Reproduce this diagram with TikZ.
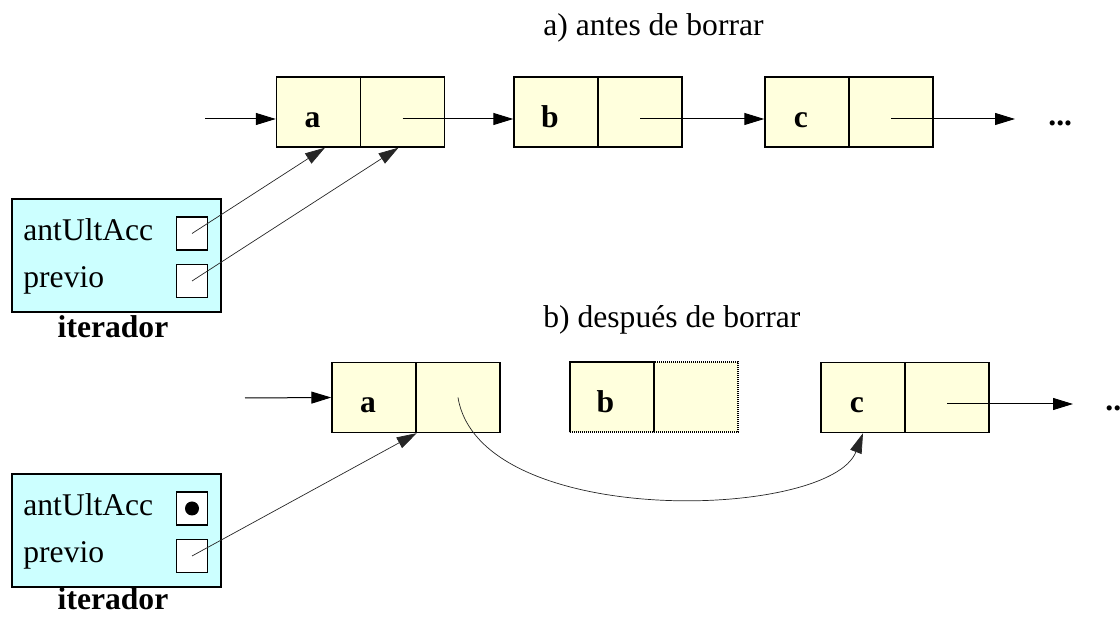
\documentclass[tikz,border=0pt]{standalone}
\usepackage{fontspec}
\setmainfont{Liberation Serif}
\usepackage{xcolor}
\usepackage{tikz}
\usetikzlibrary{arrows.meta}

\definecolor{amarillo}{HTML}{FFFFDD}
\definecolor{cian}{HTML}{CCFFFF}
\newcommand{\tamano}{\fontsize{15.8pt}{19pt}\selectfont}

\begin{document}
\begin{tikzpicture}[x=0.5pt, y=-0.5pt, font=\tamano,
    celda/.style={draw, fill=amarillo, line width=0.7pt, minimum width=42pt, minimum height=35pt,
                  inner sep=0pt, font=\tamano\bfseries, text height=15.5pt, text depth=0pt,
                  execute at begin node={\hspace*{-6pt}}},
    borrada/.style={dash pattern=on 0.6pt off 0.4pt, draw=black, line width=1pt},
    casilla/.style={draw, fill=white, line width=0.6pt, minimum width=15.5pt, minimum height=16.5pt, inner sep=0pt},
    ptr/.style={-{Triangle[length=10pt,width=6pt]}, line width=0.5pt},
    fino/.style={-{Triangle[length=10pt,width=6pt]}, line width=0.35pt, draw=black!85}]
                    \useasboundingbox (0,0) rectangle (1120,619);
                    % titulos
                    \node[anchor=base west, inner sep=0pt] (tituloA) at (543,36) {a) antes de borrar};
                    \node[anchor=base west, inner sep=0pt] (tituloD) at (543,328) {b) después de borrar};
                    % lista antes de borrar
                        \foreach \n/\x in {a/318.5, b/556, c/807} {
                            \node[celda] (\n1) at (\x,112) {\n};
                            \node[celda] (\n1sig) at (\x+84,112) {};
                        }
                    % lista despues de borrar
                        \foreach \n/\x in {a/374, c/863} {
                            \node[celda] (\n2) at (\x,397.5) {\n};
                            \node[celda] (\n2sig) at (\x+84,397.5) {};
                        }
                    \node[celda, borrada] (b2) at (611.5,397.5) {b};
                    \node[celda, borrada] (b2sig) at (696,397.5) {};
                    % iteradores
                        \foreach \t/\s in {199/A, 474/D} {
                            \node[draw, fill=cian, line width=0.6pt, minimum width=104.5pt, minimum height=56.5pt] (iter\s) at (116.5,\t+56.5) {};
                            \node[anchor=base west, inner sep=0pt] (txtAnt\s) at (23,\t+42) {antUltAcc};
                            \node[anchor=base west, inner sep=0pt] (txtPrev\s) at (23,\t+89) {previo};
                            \node[casilla] (ant\s) at (192,\t+34.5) {};
                            \node[casilla] (prev\s) at (192,\t+82) {};
                        }
                    \node[anchor=base, inner sep=0pt, font=\tamano\bfseries] (nomA) at (113,338) {iterador};
                    \node[anchor=base, inner sep=0pt, font=\tamano\bfseries] (nomD) at (113,610) {iterador};
                    \fill (antD.center) circle (3.5pt);
                    % puntos suspensivos
                    \node[anchor=base west, inner sep=0pt, font=\tamano\bfseries] (masA) at (1048,126) {...};
                    \node[anchor=base west, inner sep=0pt, font=\tamano\bfseries] (masD) at (1105,411) {...};
                    \coordinate (entA) at (205,119);
                    \coordinate (finA) at (1015,119);
                    \coordinate (entD) at (245,398);
                    \coordinate (finD) at (1073,404);
                    % enlaces antes
                    \draw[ptr] (entA) -- (a1.west |- entA);
                    \draw[ptr] ([yshift=-3.5pt]a1sig.center) -- ([yshift=-3.5pt]b1.west);
                    \draw[ptr] ([yshift=-3.5pt]b1sig.center) -- ([yshift=-3.5pt]c1.west);
                    \draw[ptr] ([yshift=-3.5pt]c1sig.center) -- (finA);
                    \draw[fino] (antA.center) -- ([xshift=3.25pt]a1.south);
                    \draw[fino] (prevA.center) -- ([xshift=-2pt]a1sig.south);
                    % enlaces despues
                    \draw[ptr] (entD) -- (a2.west);
                    \draw[ptr] ([yshift=-3.25pt]c2sig.center) -- (finD);
                    \draw[fino] (a2sig.center) .. controls (480,530) and (830,520) .. (c2.south);
                    \draw[fino] (prevD.center) -- (a2.south east);
                \end{tikzpicture}
\end{document}
